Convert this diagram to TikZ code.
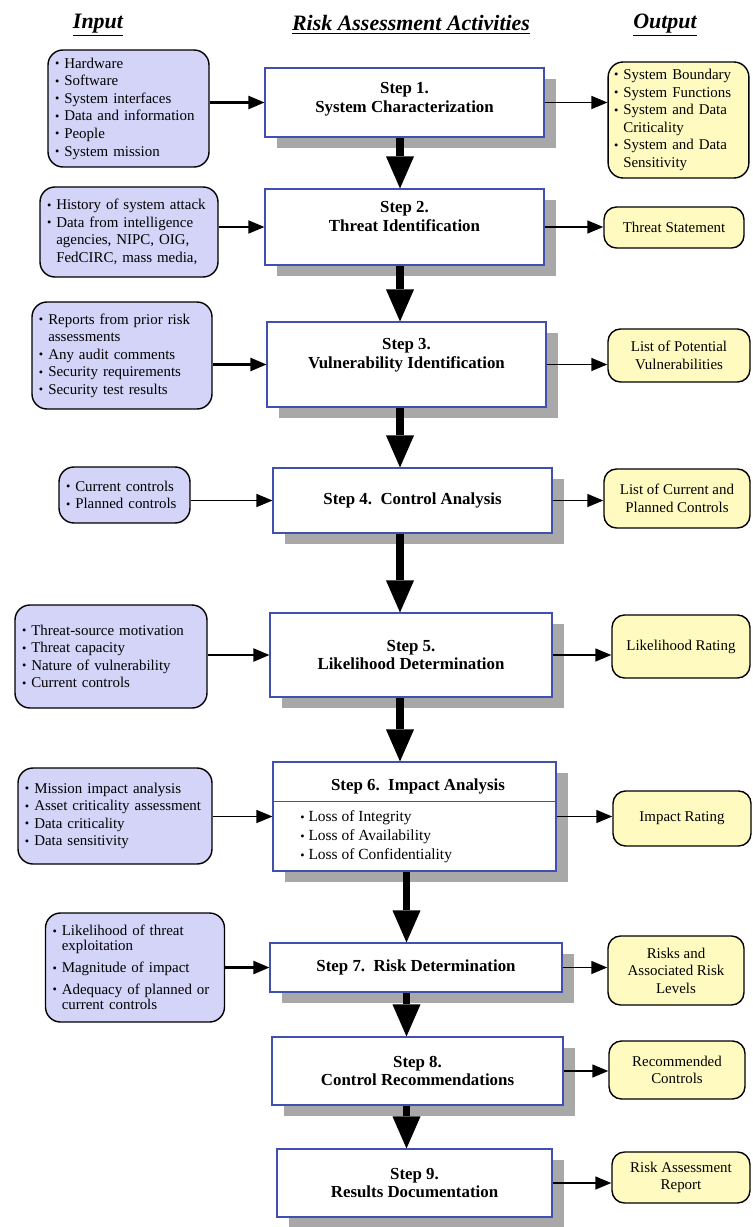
\documentclass[tikz,border=0pt]{standalone}
\usepackage{fontspec}
\setmainfont{Liberation Serif}
\usepackage{xcolor}
\usepackage{tikz}
\usetikzlibrary{positioning, arrows.meta, shadows, calc}

\definecolor{inputfill}{RGB}{212,212,248}
\definecolor{outputfill}{RGB}{255,250,192}
\definecolor{stepline}{RGB}{64,80,176}
\definecolor{shadowgray}{RGB}{168,168,168}

\newcommand{\bul}{\raisebox{.1ex}{\scriptsize\textbullet}\ }
\newcommand{\ind}{\hphantom{\bul}}

\begin{document}
\begin{tikzpicture}[
    header/.style={font=\fontsize{12.5}{14}\selectfont\bfseries\itshape},
    stepbox/.style={rectangle, draw=stepline, fill=white, line width=0.6pt, align=center,
        font=\fontsize{9.6}{10.5}\selectfont\bfseries,
        drop shadow={shadow xshift=0.24cm, shadow yshift=-0.22cm, fill=shadowgray, opacity=1}},
    input/.style={rectangle, rounded corners=0.3cm, draw, line width=0.8pt, fill=inputfill,
        inner xsep=0.14cm, align=left, font=\fontsize{8.5}{10}\selectfont},
    output/.style={rectangle, rounded corners=0.25cm, draw, line width=0.8pt, fill=outputfill,
        align=center, font=\fontsize{8.5}{10}\selectfont},
    flow/.style={-{Triangle[length=0.32cm, width=0.26cm]}, line width=0.8pt},
    bigflow/.style={-{Triangle[length=0.64cm, width=0.56cm, line width=0pt]}, line width=4pt}
]
    \useasboundingbox (0,0) rectangle (15.04,-24.54);

    % Column headers
    \node[header] (hinput) at (1.96,-0.5) {\underline{Input}};
    \node[header] (hsteps) at (8.22,-0.5) {\underline{Risk Assessment Activities}};
    \node[header] (houtput) at (13.3,-0.5) {\underline{Output}};

    % Steps
    \node[stepbox, minimum width=5.58cm, minimum height=1.38cm, text depth=0.2cm] (s1) at (8.09,-2.05) {Step 1.\\System Characterization};
    \node[stepbox, minimum width=5.58cm, minimum height=1.52cm, text depth=0.42cm] (s2) at (8.09,-4.54) {Step 2.\\Threat Identification};
    \node[stepbox, minimum width=5.58cm, minimum height=1.70cm, text depth=0.45cm] (s3) at (8.13,-7.29) {Step 3.\\Vulnerability Identification};
    \node[stepbox, minimum width=5.58cm, minimum height=1.30cm] (s4) at (8.25,-10.01) {Step 4.\ \ Control Analysis};
    \node[stepbox, minimum width=5.64cm, minimum height=1.68cm] (s5) at (8.22,-13.10) {Step 5.\\Likelihood Determination};
    \node[stepbox, minimum width=5.66cm, minimum height=2.18cm] (s6) at (8.29,-16.33) {};
    \node[stepbox, minimum width=5.84cm, minimum height=0.98cm] (s7) at (8.32,-19.35) {Step 7.\ \ Risk Determination};
    \node[stepbox, minimum width=5.82cm, minimum height=1.36cm] (s8) at (8.35,-21.42) {Step 8.\\Control Recommendations};
    \node[stepbox, minimum width=5.50cm, minimum height=1.36cm] (s9) at (8.29,-23.66) {Step 9.\\Results Documentation};

    % Step 6 parts
    \node[font=\fontsize{9.6}{10.5}\selectfont\bfseries] (s6head) at (8.36,-15.72) {Step 6.\ \ Impact Analysis};
    \draw[stepline, line width=0.6pt] ($(s6.north west)!0.36!(s6.south west)$) -- ($(s6.north east)!0.36!(s6.south east)$);
    \node[anchor=west, align=left, font=\fontsize{8.8}{10.8}\selectfont, inner sep=0pt] (s6list) at (6.0,-16.74)
        {\bul Loss of Integrity\\\bul Loss of Availability\\\bul Loss of Confidentiality};

    % Input nodes
    \node[input, text width=2.94cm, minimum height=2.34cm] (in1) at (2.57,-2.17)
        {\bul Hardware\\\bul Software\\\bul System interfaces\\\bul Data and information\\\bul People\\\bul System mission};
    \node[input, text width=3.28cm, minimum height=1.80cm] (in2) at (2.58,-4.64)
        {\bul History of system attack\\\bul Data from intelligence\\\ind agencies, NIPC, OIG,\\\ind FedCIRC, mass media,};
    \node[input, text width=3.32cm, minimum height=2.14cm] (in3) at (2.44,-7.11)
        {\bul Reports from prior risk\\\ind assessments\\\bul Any audit comments\\\bul Security requirements\\\bul Security test results};
    \node[input, text width=2.34cm, minimum height=1.12cm] (in4) at (2.49,-9.90)
        {\bul Current controls\\\bul Planned controls};
    \node[input, text width=3.56cm, minimum height=2.06cm] (in5) at (2.22,-13.13)
        {\bul Threat-source motivation\\\bul Threat capacity\\\bul Nature of vulnerability\\\bul Current controls};
    \node[input, text width=3.60cm, minimum height=1.92cm] (in6) at (2.30,-16.32)
        {\bul Mission impact analysis\\\bul Asset criticality assessment\\\bul Data criticality\\\bul Data sensitivity};
    \node[input, text width=3.30cm, minimum height=2.18cm, font=\fontsize{8.5}{8.5}\selectfont] (in7) at (2.70,-19.35)
        {\bul Likelihood of threat\\\ind exploitation\\[4pt]\bul Magnitude of impact\\[4pt]\bul Adequacy of planned or\\\ind current controls};

    % Output nodes
    \node[output, align=left, text width=2.58cm, minimum height=2.32cm, rounded corners=0.3cm] (out1) at (13.57,-2.40)
        {\bul System Boundary\\\bul System Functions\\\bul System and Data\\\ind Criticality\\\bul System and Data\\\ind Sensitivity};
    \node[output, minimum width=2.80cm, minimum height=0.82cm] (out2) at (13.48,-4.55) {Threat Statement};
    \node[output, minimum width=2.84cm, minimum height=1.06cm] (out3) at (13.58,-7.11) {List of Potential\\Vulnerabilities};
    \node[output, minimum width=2.92cm, minimum height=1.18cm] (out4) at (13.54,-9.97) {List of Current and\\Planned Controls};
    \node[output, minimum width=2.76cm, minimum height=1.26cm] (out5) at (13.62,-12.93) {Likelihood Rating};
    \node[output, minimum width=2.76cm, minimum height=1.10cm] (out6) at (13.64,-16.37) {Impact Rating};
    \node[output, minimum width=2.72cm, minimum height=1.38cm] (out7) at (13.52,-19.41) {Risks and\\Associated Risk\\Levels};
    \node[output, minimum width=2.72cm, minimum height=1.16cm] (out8) at (13.54,-21.40) {Recommended\\Controls};
    \node[output, minimum width=2.76cm, minimum height=1.02cm] (out9) at (13.62,-23.55) {Risk Assessment\\Report};

    % Main flow
    \coordinate (spine) at (8.0,0);
    \coordinate (spinelow) at (8.13,0);
    \draw[bigflow] (s1.south -| spine) -- (s2.north -| spine);
    \draw[bigflow] (s2.south -| spine) -- (s3.north -| spine);
    \draw[bigflow] (s3.south -| spine) -- (s4.north -| spine);
    \draw[bigflow] (s4.south -| spine) -- (s5.north -| spine);
    \draw[bigflow] (s5.south -| spine) -- (s6.north -| spine);
    \draw[bigflow] (s6.south -| spinelow) -- (s7.north -| spinelow);
    \draw[bigflow] (s7.south -| spinelow) -- (s8.north -| spinelow);
    \draw[bigflow] (s8.south -| spinelow) -- (s9.north -| spinelow);

    % Inputs to steps
    \draw[flow, line width=1.2pt] (in1.east |- s1.west) -- (s1.west);
    \draw[flow] (in2.east |- s2.west) -- (s2.west);
    \draw[flow, line width=1.2pt] (in3.east |- s3.west) -- (s3.west);
    \draw[flow] (in4.east |- s4.west) -- (s4.west);
    \draw[flow, line width=1.2pt] (in5.east |- s5.west) -- (s5.west);
    \draw[flow] (in6.east |- s6.west) -- (s6.west);
    \draw[flow, line width=1.2pt] (in7.east |- s7.west) -- (s7.west);

    % Steps to outputs
    \draw[flow] (s1.east) -- (s1.east -| out1.west);
    \draw[flow] (s2.east) -- (s2.east -| out2.west);
    \draw[flow] (s3.east) -- (s3.east -| out3.west);
    \draw[flow] (s4.east) -- (s4.east -| out4.west);
    \draw[flow] (s5.east) -- (s5.east -| out5.west);
    \draw[flow] (s6.east) -- (s6.east -| out6.west);
    \draw[flow] (s7.east) -- (s7.east -| out7.west);
    \draw[flow] (s8.east) -- (s8.east -| out8.west);
    \draw[flow] (s9.east) -- (s9.east -| out9.west);
\end{tikzpicture}
\end{document}
